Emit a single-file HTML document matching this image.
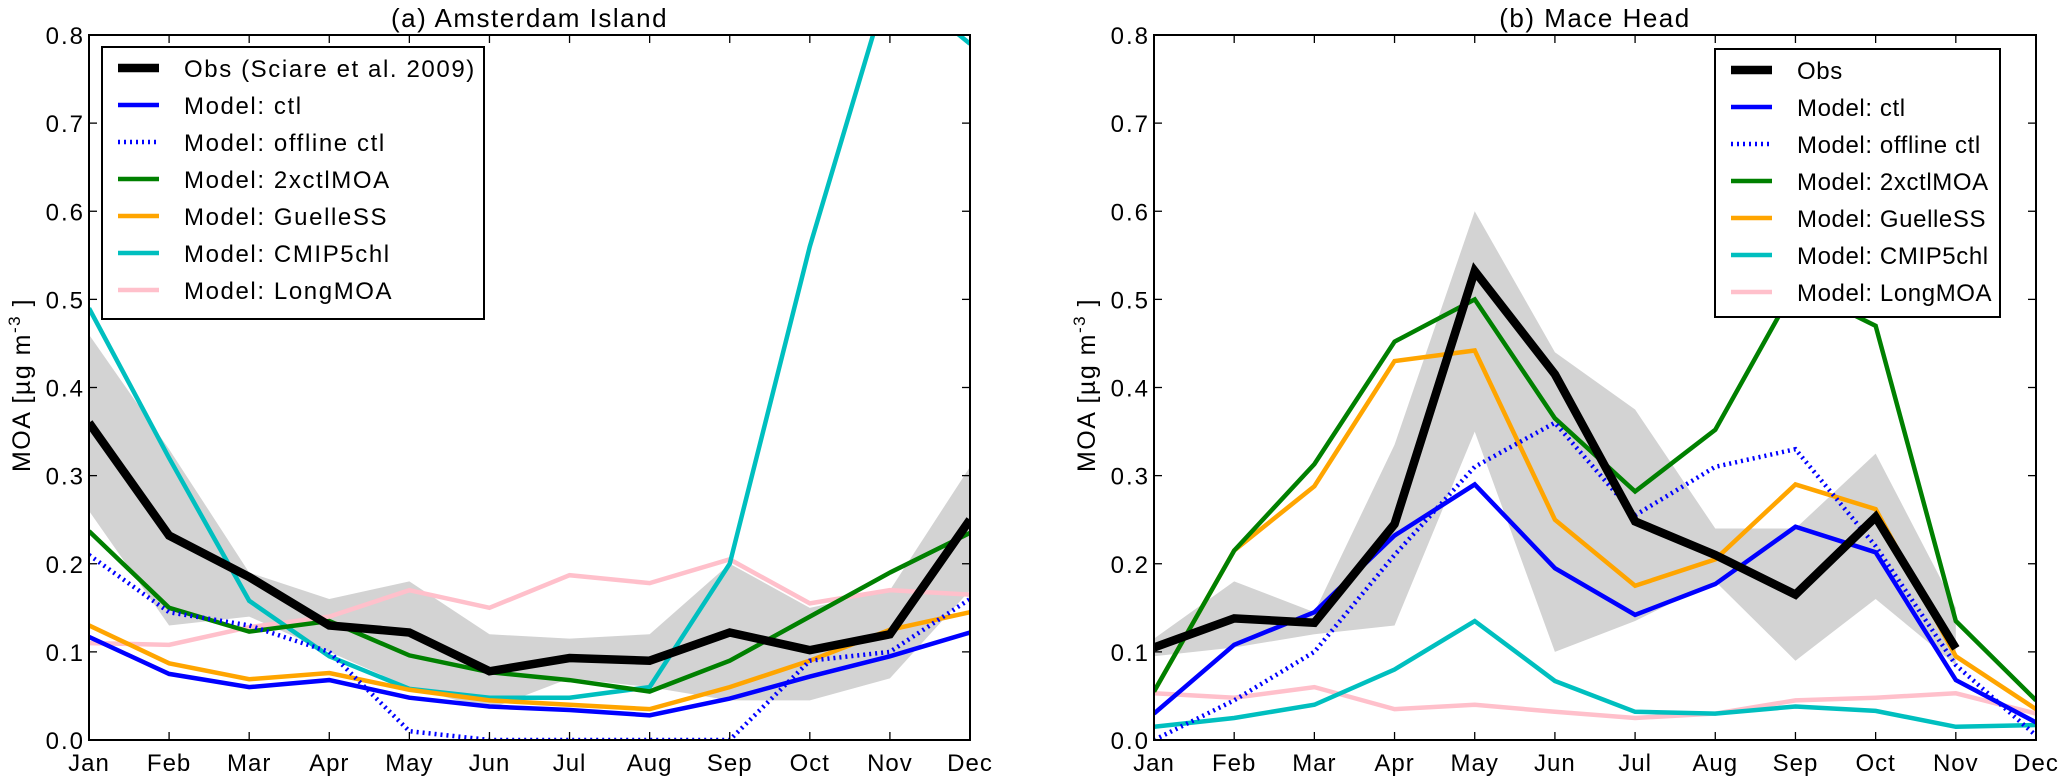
<!DOCTYPE html>
<html><head><meta charset="utf-8"><style>
html,body{margin:0;padding:0;background:#fff;}
svg text{font-family:"Liberation Sans",sans-serif;fill:#000;}
</style></head><body>
<svg id="chart" width="2066" height="777" xmlns="http://www.w3.org/2000/svg"></svg>
<script>
const months = ["Jan","Feb","Mar","Apr","May","Jun","Jul","Aug","Sep","Oct","Nov","Dec"];
const yTicks = [0.0,0.1,0.2,0.3,0.4,0.5,0.6,0.7,0.8];
// Amsterdam Island
const amsObs = [0.36,0.232,0.185,0.13,0.122,0.078,0.093,0.09,0.122,0.102,0.12,0.25];
const amsBandHi = [0.46,0.33,0.19,0.16,0.18,0.12,0.115,0.12,0.2,0.15,0.17,0.31];
const amsBandLo = [0.26,0.13,0.14,0.10,0.06,0.035,0.07,0.06,0.045,0.045,0.07,0.17];
const amsCtl = [0.117,0.075,0.06,0.068,0.048,0.038,0.034,0.028,0.047,0.072,0.095,0.122];
const amsOffline = [0.21,0.145,0.13,0.1,0.01,0.0,0.0,0.0,0.0,0.09,0.1,0.16];
const ams2x = [0.237,0.15,0.123,0.135,0.096,0.077,0.068,0.055,0.09,0.14,0.19,0.235];
const amsGuelle = [0.13,0.087,0.069,0.076,0.057,0.045,0.04,0.035,0.06,0.09,0.125,0.145];
const amsCmip = [0.49,0.32,0.158,0.095,0.058,0.048,0.048,0.06,0.2,0.56,0.864,0.79];
const amsLong = [0.11,0.108,0.128,0.14,0.17,0.15,0.187,0.178,0.205,0.155,0.17,0.165];
// Mace Head
const macObs = [0.105,0.138,0.133,0.245,0.532,0.415,0.248,0.21,0.165,0.253,0.104,null];
const macBandHi = [0.115,0.18,0.145,0.335,0.6,0.44,0.375,0.24,0.24,0.325,0.15,null];
const macBandLo = [0.095,0.105,0.12,0.13,0.35,0.1,0.135,0.18,0.09,0.16,0.085,null];
const macCtl = [0.03,0.108,0.145,0.232,0.29,0.195,0.142,0.177,0.242,0.213,0.068,0.02];
const macOffline = [0.0,0.045,0.1,0.21,0.31,0.36,0.255,0.31,0.33,0.22,0.085,0.005];
const mac2x = [0.055,0.215,0.313,0.452,0.5,0.365,0.282,0.352,0.515,0.47,0.135,0.045];
const macGuelle = [0.055,0.215,0.288,0.43,0.442,0.25,0.175,0.205,0.29,0.262,0.095,0.035];
const macCmip = [0.015,0.025,0.04,0.08,0.135,0.067,0.032,0.03,0.038,0.033,0.015,0.017];
const macLong = [0.053,0.048,0.06,0.035,0.04,0.032,0.025,0.03,0.045,0.048,0.053,0.03];

const NS="http://www.w3.org/2000/svg";
const svg=document.getElementById('chart');
function mk(tag,attrs,parent){const e=document.createElementNS(NS,tag);for(const k in attrs)e.setAttribute(k,attrs[k]);(parent||svg).appendChild(e);return e;}
const Y0=740, Y1=35;

function panel(id,left,right,title,band,series,legend){
  const g=mk('g',{});
  
  
  const xs=i=>left+(right-left)*i/11;
  const ys=v=>Y0-(Y0-Y1)*v/0.8;
  const clipId='clip-'+id;
  const cp=mk('clipPath',{id:clipId},g);mk('rect',{x:left,y:Y1,width:right-left,height:Y0-Y1},cp);
  const pg=mk('g',{'clip-path':'url(#'+clipId+')'},g);
  let pts=[];
  band.hi.forEach((v,i)=>{if(v!==null)pts.push(xs(i)+','+ys(v));});
  for(let i=band.lo.length-1;i>=0;i--){if(band.lo[i]!==null)pts.push(xs(i)+','+ys(band.lo[i]));}
  const b=mk('polygon',{points:pts.join(' '),fill:'#d3d3d3',stroke:'none'},pg);
  
  
  series.forEach(s=>{
    const p=[];s.data.forEach((v,i)=>{if(v!==null)p.push(xs(i)+','+ys(v));});
    const l=mk('polyline',{points:p.join(' '),fill:'none',stroke:s.color,'stroke-width':s.w,'stroke-linejoin':'miter'},pg);
    if(s.dash)l.setAttribute('stroke-dasharray','2 4');
    
    
  });
  mk('rect',{x:left,y:Y1,width:right-left,height:Y0-Y1,fill:'none',stroke:'#000','stroke-width':2},g);
  months.forEach((m,i)=>{
    const x=xs(i);
    mk('line',{x1:x,y1:Y0,x2:x,y2:Y0-8,stroke:'#000','stroke-width':1.3},g);
    mk('line',{x1:x,y1:Y1,x2:x,y2:Y1+8,stroke:'#000','stroke-width':1.3},g);
    const t=mk('text',{x:x,y:Y0+31,'font-size':24,'letter-spacing':1,'text-anchor':'middle'},g);t.textContent=m;
    
    
  });
  yTicks.forEach(v=>{
    const y=ys(v);
    mk('line',{x1:left,y1:y,x2:left+8,y2:y,stroke:'#000','stroke-width':1.3},g);
    mk('line',{x1:right,y1:y,x2:right-8,y2:y,stroke:'#000','stroke-width':1.3},g);
    const t=mk('text',{x:left-4,y:y+9,'font-size':24,'letter-spacing':2,'text-anchor':'end'},g);t.textContent=v.toFixed(1);
    
    
  });
  const tt=mk('text',{x:(left+right)/2,y:27,'font-size':26,'letter-spacing':1.5,'text-anchor':'middle'},g);tt.textContent=title;
  
  
  const yl=mk('text',{x:0,y:0,'font-size':25,'letter-spacing':1.5,'text-anchor':'middle',transform:'translate('+(left-59)+',385) rotate(-90)'},g);
  yl.innerHTML='MOA [µg  m<tspan dy="-10" font-size="17">-3</tspan><tspan dy="10"> ]</tspan>';
  
  
  const lg=mk('g',{},g);
  
  
  mk('rect',{x:legend.x,y:legend.y,width:legend.w,height:legend.h,fill:'#fff',stroke:'#000','stroke-width':2},lg);
  series.slice().reverse().forEach((s,k)=>{
    const y=legend.y+21+k*37;
    const ln=mk('line',{x1:legend.x+16,y1:y,x2:legend.x+57,y2:y,stroke:s.color,'stroke-width':s.w},lg);
    if(s.dash)ln.setAttribute('stroke-dasharray','2 4');
    const t=mk('text',{x:legend.x+legend.tx,y:y+9,'font-size':24,'letter-spacing':legend.ls},lg);t.textContent=s.label;
    
    
  });
}
function ser(obsLabel,obs,ctl,off,x2,gu,cm,lo){
  return [
    {name:'longmoa',label:'Model: LongMOA',data:lo,color:'#ffc0cb',w:4.5},
    {name:'cmip5chl',label:'Model: CMIP5chl',data:cm,color:'#00bfbf',w:4.5},
    {name:'guelless',label:'Model: GuelleSS',data:gu,color:'#ffa500',w:4.5},
    {name:'2xctlmoa',label:'Model: 2xctlMOA',data:x2,color:'#008000',w:4.5},
    {name:'offline-ctl',label:'Model: offline ctl',data:off,color:'#0000ff',w:4.5,dash:true},
    {name:'ctl',label:'Model: ctl',data:ctl,color:'#0000ff',w:4.5},
    {name:'obs',label:obsLabel,data:obs,color:'#000',w:8.5}
  ];
}
panel('amsterdam',89,970,'(a) Amsterdam Island',{hi:amsBandHi,lo:amsBandLo},
  ser('Obs (Sciare et al. 2009)',amsObs,amsCtl,amsOffline,ams2x,amsGuelle,amsCmip,amsLong),
  {x:102,y:47,w:382,h:272,tx:82,ls:1.6});
panel('mace-head',1154,2036,'(b) Mace Head',{hi:macBandHi,lo:macBandLo},
  ser('Obs',macObs,macCtl,macOffline,mac2x,macGuelle,macCmip,macLong),
  {x:1715,y:49,w:285,h:268,tx:82,ls:0.6});
</script>
</body></html>
